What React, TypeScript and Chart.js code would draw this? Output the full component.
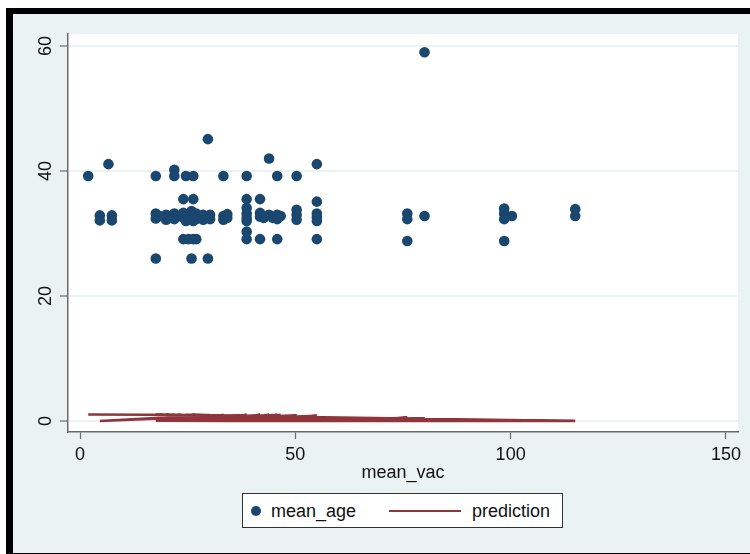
import React, { useEffect, useRef } from "react";
import { Chart, registerables } from "chart.js";

Chart.register(...registerables);

// ---- data ----
const meanVac = [
  1.9, 4.6, 4.6, 6.6, 7.4, 7.4,
  17.6, 17.6, 17.6, 17.6, 18.5, 20, 20, 21.3,
  21.9, 21.9, 21.9, 21.9, 22.8,
  24, 24, 24, 24, 24.6, 24.6, 25.2, 25.2,
  25.9, 25.9, 25.9, 26.3, 26.3, 26.3, 26.3, 26.3,
  27, 27, 27, 27.6, 28.6, 28.6, 29.7, 29.7, 30.2, 30.2,
  33.3, 33.3, 33.3, 34.2, 34.2,
  38.7, 38.7, 38.7, 38.7, 38.7, 38.7, 38.7, 38.7,
  41.8, 41.8, 41.8, 41.8, 42.7, 43.9, 43.9, 44.8,
  45.8, 45.8, 45.8, 45.8, 46.6,
  50.3, 50.3, 50.3, 50.3,
  55, 55, 55, 55, 55, 55,
  76, 76, 76, 80, 80,
  98.5, 98.5, 98.5, 98.5, 100.3,
  115, 115,
];
const meanAge = [
  39.2, 32.9, 32.1, 41.1, 32.9, 32.1,
  39.2, 33.2, 32.4, 26.0, 32.8, 33.0, 32.2, 32.8,
  40.2, 39.2, 33.2, 32.3, 32.8,
  35.5, 33.3, 32.5, 29.1, 39.2, 32.0, 33.0, 29.1,
  33.6, 32.5, 26.0, 39.2, 35.5, 32.9, 32.0, 29.1,
  33.2, 32.3, 29.1, 32.8, 33.0, 32.2, 45.1, 26.0, 33.0, 32.3,
  39.2, 32.8, 32.2, 33.1, 32.5,
  39.2, 35.5, 34.1, 33.2, 32.5, 32.0, 30.3, 29.1,
  35.5, 33.3, 32.7, 29.1, 32.5, 42.0, 33.0, 32.5,
  39.2, 33.0, 32.3, 29.1, 32.8,
  39.2, 33.8, 33.0, 32.2,
  41.1, 35.1, 33.2, 32.6, 32.0, 29.1,
  33.2, 32.3, 28.8, 59.0, 32.8,
  34.0, 33.2, 32.3, 28.8, 32.8,
  33.9, 32.8,
];
// prediction, in data order (unsorted, so the line zig-zags into a wedge)
const predVac = [
  1.9, 30.2, 4.6, 38.7, 17.6, 45.8, 18.5, 50.3, 20, 41.8,
  21.3, 55, 21.9, 43.9, 22.8, 46.6, 24, 76, 24.6, 50.3,
  25.2, 80, 25.9, 55, 26.3, 98.5, 27, 100.3, 27.6, 115,
  28.6, 44.8, 29.7, 98.5, 30.2, 76, 33.3, 115, 34.2, 80,
  38.7, 100.3, 41.8, 98.5, 42.7, 115, 45.8, 76, 50.3, 115,
  17.6, 55, 20, 50.3, 22.8, 46.6, 25.9, 44.8, 27.6, 42.7,
  29.7, 38.7, 21.3, 76, 24.6, 80, 26.3, 98.5, 18.5, 34.2,
  17.6, 33.3, 19.2, 41.8, 23.4, 45.8, 26.3, 38.7, 28.6, 43.9,
  38.7, 80, 45.8, 98.5, 50.3, 76, 55, 80, 42.7, 100.3,
  46.6, 98.5, 33.3, 76, 55, 98.5, 115,
];
const predValue = [
  1.05, 0.95, 0.0, 0.97, 0.01, 0.96, 0.02, 0.94, 0.01, 0.97,
  0.02, 0.86, 0.01, 0.96, 0.02, 0.95, 0.01, 0.5, 0.02, 0.93,
  0.01, 0.42, 0.02, 0.85, 0.01, 0.16, 0.02, 0.12, 0.01, 0.03,
  0.02, 0.96, 0.01, 0.15, 0.02, 0.48, 0.01, 0.02, 0.02, 0.4,
  0.01, 0.11, 0.02, 0.14, 0.01, 0.03, 0.02, 0.5, 0.01, 0.02,
  0.99, 0.01, 0.99, 0.02, 0.99, 0.01, 0.99, 0.01, 0.98, 0.02,
  0.98, 0.02, 0.99, 0.01, 0.99, 0.02, 0.99, 0.01, 0.99, 0.01,
  0.02, 0.98, 0.01, 0.97, 0.02, 0.96, 0.01, 0.97, 0.02, 0.96,
  0.02, 0.42, 0.01, 0.15, 0.01, 0.49, 0.02, 0.41, 0.02, 0.12,
  0.01, 0.16, 0.02, 0.5, 0.01, 0.0, 0.0,
];
const xTicks = [0, 50, 100, 150];
const yTicks = [0, 20, 40, 60];
const xTitle = "mean_vac";
const seriesNames = ["mean_age", "prediction"];

// ---- styles ----
const FONT = '"Liberation Sans", Arial, Helvetica, sans-serif';
const NAVY = "#1A476F";
const MAROON = "#90353B";
const BG = "#EAF2F3";
const AXIS = "#6b6b6b";

const plotBgPlugin = {
  id: "plotBg",
  beforeDraw(chart: any) {
    const { ctx, chartArea } = chart;
    ctx.save();
    ctx.fillStyle = "#ffffff";
    ctx.fillRect(chartArea.left, chartArea.top, chartArea.right - chartArea.left, chartArea.bottom - chartArea.top);
    ctx.restore();
  },
};

const yLabelPlugin = {
  id: "yLabels",
  afterDraw(chart: any) {
    const ys = chart.scales.y;
    const ctx = chart.ctx;
    ctx.save();
    ctx.font = `18px ${FONT}`;
    ctx.fillStyle = "#111";
    ctx.textAlign = "center";
    ctx.textBaseline = "middle";
    yTicks.forEach((v) => {
      const py = ys.getPixelForValue(v);
      ctx.save();
      ctx.translate(ys.left + 46, py);
      ctx.rotate(-Math.PI / 2);
      ctx.fillText(String(v), 0, 0);
      ctx.restore();
    });
    ctx.restore();
  },
};

function App() {
  const canvasRef = useRef<HTMLCanvasElement | null>(null);

  useEffect(() => {
    document.body.style.margin = "0";
    const canvas = canvasRef.current;
    if (!canvas) return;
    const scatterData = meanVac.map((x, i) => ({ x, y: meanAge[i] }));
    const predData = predVac.map((x, i) => ({ x, y: predValue[i] }));
    const chart = new Chart(canvas, {
      type: "scatter",
      data: {
        datasets: [
          {
            label: seriesNames[0],
            data: scatterData,
            backgroundColor: NAVY,
            borderColor: NAVY,
            borderWidth: 0,
            pointRadius: 5.3,
            order: 1,
          },
          {
            label: seriesNames[1],
            data: predData,
            showLine: true,
            borderColor: MAROON,
            backgroundColor: MAROON,
            borderWidth: 2.4,
            pointRadius: 0,
            tension: 0,
            fill: false,
            order: 0,
          } as any,
        ],
      },
      options: {
        responsive: false,
        animation: false,
        layout: { padding: { left: 0, right: 12, top: 34, bottom: 0 } },
        plugins: {
          legend: { display: false },
          tooltip: { enabled: false },
        },
        scales: {
          x: {
            type: "linear",
            min: -2.79,
            max: 152.8,
            afterBuildTicks: (s: any) => {
              s.ticks = xTicks.map((v) => ({ value: v }));
            },
            afterFit: (s: any) => {
              s.height = 122;
            },
            grid: {
              drawOnChartArea: false,
              drawTicks: true,
              tickLength: 7,
              tickColor: AXIS,
              tickWidth: 1.2,
            },
            border: { display: true, color: AXIS, width: 1.5 },
            ticks: {
              font: { size: 18, family: FONT },
              color: "#111",
              padding: 5,
              maxRotation: 0,
              autoSkip: false,
            },
            title: {
              display: true,
              text: xTitle,
              font: { size: 18, family: FONT },
              color: "#111",
              padding: { top: 0, bottom: 70 },
            },
          },
          y: {
            type: "linear",
            min: -1.76,
            max: 61.92,
            afterBuildTicks: (s: any) => {
              s.ticks = yTicks.map((v) => ({ value: v }));
            },
            afterFit: (s: any) => {
              s.width = 68;
            },
            grid: {
              color: BG,
              lineWidth: 2,
              drawTicks: true,
              tickLength: 8,
              tickColor: AXIS,
              tickWidth: 1.2,
            },
            border: { display: true, color: AXIS, width: 1.5 },
            ticks: { display: false },
          },
        },
      },
      plugins: [plotBgPlugin, yLabelPlugin],
    });
    return () => chart.destroy();
  }, []);

  const textStyle: React.CSSProperties = {
    position: "absolute",
    fontFamily: FONT,
    fontSize: 18,
    color: "#111",
    lineHeight: "20px",
    top: 7,
    whiteSpace: "nowrap",
  };

  return (
    <div style={{ position: "absolute", left: 0, top: 0, width: 750, height: 554, background: "#fff", overflow: "hidden" }}>
      <div style={{ position: "absolute", left: 6, top: 8, width: 744, height: 546, background: "#000" }} />
      <div style={{ position: "absolute", left: 13, top: 14, width: 737, height: 539, background: BG }} />
      <canvas ref={canvasRef} width={750} height={554} style={{ position: "absolute", left: 0, top: 0 }} />
      <div
        style={{
          position: "absolute",
          left: 242,
          top: 493,
          width: 319,
          height: 33,
          background: "#fff",
          border: "1px solid #333",
        }}
      >
        <div
          style={{
            position: "absolute",
            left: 8,
            top: 12,
            width: 10,
            height: 10,
            borderRadius: "50%",
            background: NAVY,
          }}
        />
        <div style={{ ...textStyle, left: 28 }}>{seriesNames[0]}</div>
        <div style={{ position: "absolute", left: 146, top: 16, width: 72, height: 2, background: MAROON }} />
        <div style={{ ...textStyle, left: 229 }}>{seriesNames[1]}</div>
      </div>
    </div>
  );
}

export default App;
